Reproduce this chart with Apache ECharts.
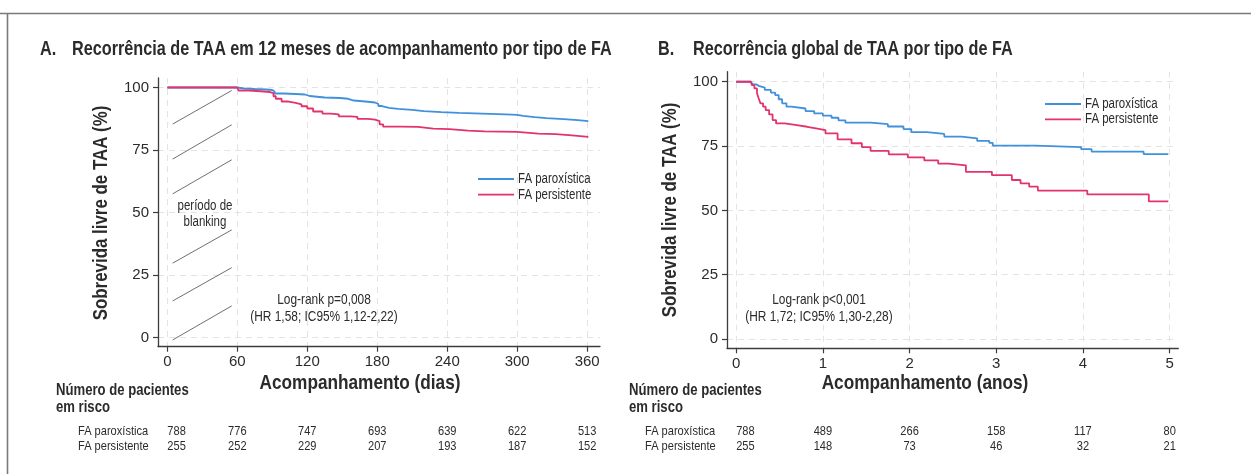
<!DOCTYPE html>
<html>
<head>
<meta charset="utf-8">
<script src="https://cdn.jsdelivr.net/npm/echarts@6/dist/echarts.min.js"></script>
<style>
  html, body { margin: 0; padding: 0; background: #fff; }
  #chart { width: 1251px; height: 474px; }
</style>
</head>
<body>
<div id="chart"></div>
<script>
// Kaplan-Meier curves: survival free of atrial tachyarrhythmia (TAA) by AF type
const SANS = 'Liberation Sans';
const NARROW_SCALE = 0.82; // condensed look for the annotation texts

const seriesNames = ['FA paroxística', 'FA persistente'];
const dayTicks = [0, 60, 120, 180, 240, 300, 360];
const yearTicks = [0, 1, 2, 3, 4, 5];
const survTicks = [0, 25, 50, 75, 100];

// Panel A: 12-month follow-up (days, % free of TAA)
const parox12m = [
  [0,100],[60,100],[61,99.6],[66,99.4],[75,99.2],[85,99.0],[90,98.4],[92,97.6],[100,97.4],
  [110,97.2],[118,96.6],[122,96.0],[135,95.8],[148,95.5],[155,94.8],[160,94.3],[172,94.0],
  [178,93.4],[181,92.6],[184,91.9],[190,91.5],[198,91.1],[210,90.6],[220,90.2],[235,89.9],
  [250,89.6],[270,89.3],[290,89.1],[300,88.7],[305,88.2],[315,87.8],[325,87.4],[340,87.0],
  [352,86.6],[361,86.4]
];
const persist12m = [
  [0,100],[60,100],[61,98.8],[70,98.5],[80,98.2],[88,97.8],[91,96.5],[93,95.5],[98,94.4],
  [104,93.9],[110,93.3],[115,92.5],[120,91.6],[125,90.4],[133,89.6],[140,89.3],[147,88.5],
  [157,88.3],[163,87.5],[172,87.2],[178,86.6],[182,85.3],[185,84.4],[200,84.3],[215,83.6],
  [228,83.4],[242,82.8],[258,82.5],[272,82.3],[300,81.6],[318,81.4],[333,80.9],[347,80.3],
  [361,80.2]
];

// Panel B: overall follow-up (years, % free of TAA)
const paroxGlobal = [
  [0,100],[0.17,100],[0.19,99.0],[0.23,98.4],[0.26,97.7],[0.33,96.8],[0.40,95.8],[0.45,94.8],
  [0.49,93.2],[0.53,91.6],[0.58,90.3],[0.64,89.6],[0.80,88.6],[0.90,87.7],[1.0,86.8],
  [1.1,86.0],[1.18,85.0],[1.26,84.1],[1.55,83.5],[1.75,82.6],[1.93,81.6],[2.02,80.4],
  [2.2,79.7],[2.4,78.7],[2.6,78.0],[2.78,77.0],[2.92,76.2],[2.96,75.2],[3.45,74.6],
  [3.98,73.8],[4.1,72.8],[4.7,71.9],[4.985,71.9]
];
const persistGlobal = [
  [0,100],[0.17,100],[0.18,98.7],[0.21,97.4],[0.24,95.5],[0.26,93.5],[0.28,91.6],[0.31,90.3],
  [0.34,89.0],[0.38,87.3],[0.42,85.1],[0.46,83.8],[0.56,83.2],[0.68,82.5],[0.82,81.9],
  [0.92,81.2],[1.03,79.9],[1.17,77.6],[1.33,76.1],[1.45,74.6],[1.55,73.1],[1.76,71.8],
  [1.98,70.6],[2.17,69.4],[2.33,68.2],[2.45,67.5],[2.65,65.0],[2.95,63.7],[3.18,61.8],
  [3.28,60.5],[3.38,59.2],[3.48,57.7],[4.05,56.2],[4.76,53.5],[4.985,53.5]
];

// Hatching of the blanking period (days, %)
const blankingSegments = [
  [[4.6,85.4],[55.2,98.8]],
  [[4.6,71.4],[55.2,85.1]],
  [[4.6,57.5],[55.2,71.1]],
  [[4.6,29.8],[55.2,43.1]],
  [[4.6,14.7],[55.2,28.0]],
  [[4.6,-0.9],[55.2,12.7]]
];

// Numbers at risk
const riskParox12m = [788, 776, 747, 693, 639, 622, 513];
const riskPersist12m = [255, 252, 229, 207, 193, 187, 152];
const riskParoxGlobal = [788, 489, 266, 158, 117, 80];
const riskPersistGlobal = [255, 148, 73, 46, 32, 21];

const BLUE = '#4190dc';
const PINK = '#e3336c';
const AXIS = '#3c3c3c';
const TXT = '#2b2b2b';
const COLORS = [BLUE, PINK];

function xAxisOpt(gridIndex, min, max, ticks) {
  return {
    type: 'value', gridIndex, min, max,
    axisLine: { onZero: false, lineStyle: { color: AXIS, width: 1.3 } },
    axisTick: { customValues: ticks, length: 5, lineStyle: { color: AXIS, width: 1.2 } },
    axisLabel: { customValues: ticks, fontFamily: SANS, fontSize: 15, color: TXT, margin: 8 },
    splitLine: { show: true, lineStyle: { color: '#e3e3e3', type: [6, 5], width: 1 } }
  };
}
function yAxisOpt(gridIndex, min, max) {
  return {
    type: 'value', gridIndex, min, max,
    axisLine: { show: true, onZero: false, lineStyle: { color: AXIS, width: 1.3 } },
    axisTick: { show: true, customValues: survTicks, length: 5, lineStyle: { color: AXIS, width: 1.2 } },
    axisLabel: { customValues: survTicks, fontFamily: SANS, fontSize: 15, color: TXT, margin: 9 },
    splitLine: { show: true, lineStyle: { color: '#e3e3e3', type: [6, 5], width: 1 } }
  };
}
function kmSeries(name, data, color, idx) {
  return {
    name, type: 'line', step: 'end', data, xAxisIndex: idx, yAxisIndex: idx,
    showSymbol: false, symbol: 'none', lineStyle: { color, width: 1.8 }, itemStyle: { color },
    emphasis: { disabled: true }, z: 3
  };
}

const chart = echarts.init(document.getElementById('chart'), null, { renderer: 'canvas' });

chart.setOption({
  animation: false,
  backgroundColor: '#fff',
  grid: [
    { left: 158, top: 78, width: 442, height: 268.7, outerBoundsMode: 'none' },
    { left: 727, top: 71.7, width: 451.3, height: 276.6, outerBoundsMode: 'none' }
  ],
  xAxis: [xAxisOpt(0, -8, 371, dayTicks), xAxisOpt(1, -0.106, 5.1, yearTicks)],
  yAxis: [yAxisOpt(0, -3.6, 103.8), yAxisOpt(1, -3.6, 103.9)],
  series: [
    kmSeries(seriesNames[0], parox12m, BLUE, 0),
    kmSeries(seriesNames[1], persist12m, PINK, 0),
    kmSeries(seriesNames[0], paroxGlobal, BLUE, 1),
    kmSeries(seriesNames[1], persistGlobal, PINK, 1),
    {
      name: 'blanking', type: 'lines', coordinateSystem: 'cartesian2d', xAxisIndex: 0, yAxisIndex: 0,
      polyline: false, silent: true, z: 2,
      lineStyle: { color: '#4a4a4a', width: 0.8, opacity: 1 },
      data: blankingSegments.map(c => ({ coords: c }))
    }
  ]
});

// Text, frame, legends and the at-risk table
function txt(x, y, text, size, bold, align, extra) {
  return Object.assign({
    type: 'text', x, y, silent: true, scaleX: NARROW_SCALE, z: 10,
    style: {
      text, fontFamily: SANS, fontSize: size, fontWeight: bold ? 'bold' : 'normal',
      fill: TXT, textAlign: align || 'left', textVerticalAlign: 'middle'
    }
  }, extra || {});
}

const els = [
  // frame
  { type: 'line', silent: true, shape: { x1: 0, y1: 13.5, x2: 1251, y2: 13.5 }, style: { stroke: '#7a7a7a', lineWidth: 1.6 } },
  { type: 'line', silent: true, shape: { x1: 7.5, y1: 13.5, x2: 7.5, y2: 474 }, style: { stroke: '#7a7a7a', lineWidth: 1.6 } },
  // panel titles
  txt(40, 50, 'A.', 19.8, true),
  txt(72, 50, 'Recorrência de TAA em 12 meses de acompanhamento por tipo de FA', 19.8, true),
  txt(658, 50, 'B.', 19.8, true),
  txt(693, 50, 'Recorrência global de TAA por tipo de FA', 19.8, true),
  // axis titles
  txt(101, 213, 'Sobrevida livre de TAA (%)', 20.6, true, 'center', { rotation: Math.PI / 2 }),
  txt(670, 210, 'Sobrevida livre de TAA (%)', 20.6, true, 'center', { rotation: Math.PI / 2 }),
  txt(360, 383, 'Acompanhamento (dias)', 21, true, 'center'),
  txt(925, 383, 'Acompanhamento (anos)', 21, true, 'center'),
  // annotations
  txt(205, 206.5, 'período de', 14, false, 'center'),
  txt(205, 222.5, 'blanking', 14, false, 'center'),
  txt(324, 300, 'Log-rank p=0,008', 14.5, false, 'center'),
  txt(324, 316.5, '(HR 1,58; IC95% 1,12-2,22)', 14.5, false, 'center'),
  txt(819, 300, 'Log-rank p<0,001', 14.5, false, 'center'),
  txt(819, 316.5, '(HR 1,72; IC95% 1,30-2,28)', 14.5, false, 'center'),
  // at-risk table headings
  txt(56, 391, 'Número de pacientes', 16, true),
  txt(56, 408, 'em risco', 16, true),
  txt(629, 391, 'Número de pacientes', 16, true),
  txt(629, 408, 'em risco', 16, true),
  txt(78, 431, seriesNames[0], 13.5, false),
  txt(78, 446, seriesNames[1], 13.5, false),
  txt(645, 431, seriesNames[0], 13.5, false),
  txt(645, 446, seriesNames[1], 13.5, false)
];

// legend boxes: coloured line followed by the series name
function legend(left, top, gap) {
  seriesNames.forEach((name, i) => {
    const y = top + i * gap;
    els.push({ type: 'line', silent: true, z: 10, shape: { x1: left, y1: y, x2: left + 36, y2: y },
      style: { stroke: COLORS[i], lineWidth: 1.8 } });
    els.push(txt(left + 40, y, name, 14, false));
  });
}
legend(478, 179, 15.7);
legend(1045, 104, 15.3);

function riskRow(gridIndex, ticks, values, y) {
  ticks.forEach((t, i) => {
    const px = chart.convertToPixel({ xAxisIndex: gridIndex }, t);
    els.push(txt(px, y, String(values[i]), 13.5, false, i === 0 ? 'left' : 'center'));
  });
}
riskRow(0, dayTicks, riskParox12m, 431);
riskRow(0, dayTicks, riskPersist12m, 446);
riskRow(1, yearTicks, riskParoxGlobal, 431);
riskRow(1, yearTicks, riskPersistGlobal, 446);

chart.setOption({ graphic: { elements: els } });
</script>
</body>
</html>
